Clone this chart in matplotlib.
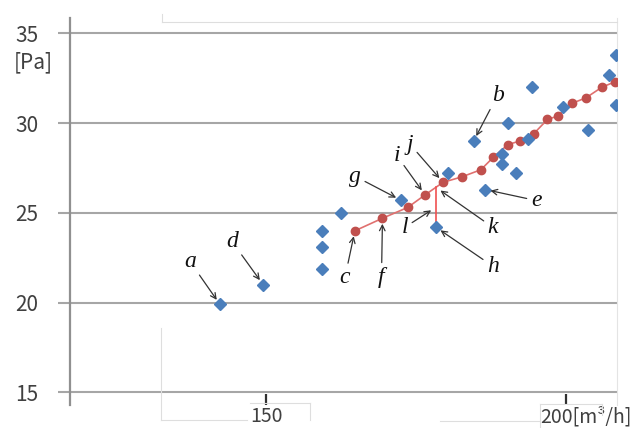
import numpy as np
import matplotlib
matplotlib.use("Agg")
import matplotlib.pyplot as plt
from matplotlib.lines import Line2D

# measured points (blue diamonds)
meas_x = [142.3, 149.5, 159.3, 159.3, 159.3, 162.5, 172.5, 178.3, 180.4, 184.6, 186.5,
          189.4, 189.4, 190.4, 191.6, 193.7, 194.4, 199.5, 203.6, 207.2, 208.3, 208.3]
meas_y = [19.9, 21.0, 24.0, 23.1, 21.9, 25.0, 25.7, 24.2, 27.2, 29.0, 26.3,
          28.3, 27.7, 30.0, 27.2, 29.1, 32.0, 30.9, 29.6, 32.7, 31.0, 33.8]

# fitted curve (red circles)
fit_x = [164.8, 169.4, 173.6, 176.5, 179.5, 182.6, 185.8, 187.9, 190.3, 192.3, 194.6,
         196.9, 198.7, 201.0, 203.3, 206.0, 208.2]
fit_y = [24.0, 24.7, 25.3, 26.0, 26.7, 27.0, 27.4, 28.1, 28.8, 29.0, 29.4,
         30.2, 30.4, 31.1, 31.4, 32.0, 32.3]

y_ticks = [15, 20, 25, 30, 35]
x_ticks = [150, 200]

GRID = '#a6a6a6'
TXT = '#404040'
BLUE = '#4a7ebb'
RED = '#c0504d'

fig = plt.figure(figsize=(6.44, 4.28), dpi=100)
ax = fig.add_axes([70 / 644, 23 / 428, 547 / 644, 387 / 428])
ax.set_xlim(117.3, 208.5)
ax.set_ylim(14.3, 35.85)

for s in ['top', 'bottom']:
    ax.spines[s].set_visible(False)
ax.spines['right'].set_color('#e4e4e4')
ax.spines['right'].set_linewidth(0.8)
ax.spines['left'].set_color('#909090')
ax.spines['left'].set_linewidth(1.6)

ax.set_yticks(y_ticks)
ax.set_yticklabels([str(v) for v in y_ticks])
ax.tick_params(axis='y', direction='out', length=8.6, width=1.5, color=GRID,
               pad=14, labelsize=15, labelcolor=TXT)
for v in y_ticks:
    ax.axhline(v, color=GRID, lw=1.5, zorder=1)

ax.set_xticks(x_ticks)
ax.set_xticklabels(['150', ''])
ax.tick_params(axis='x', direction='in', length=8, width=1.6, color='#303030',
               pad=1, labelsize=14, labelcolor=TXT)
for lbl in ax.get_xticklabels():
    lbl.set_family('Noto Sans CJK JP')
for lbl in ax.get_yticklabels():
    lbl.set_family('Noto Sans CJK JP')

ax.annotate('200[m³/h]', xy=(200, 14.3), xytext=(-26, -1), textcoords='offset pixels',
            ha='left', va='top', fontsize=14, color=TXT, family='Noto Sans CJK JP',
            annotation_clip=False)
fig.text(14 / 644, 1 - 62 / 428, '[Pa]', fontsize=15, color=TXT, va='center',
         ha='left', family='Noto Sans CJK JP')

# fitted line and residual for point h
ax.plot(fit_x, fit_y, color='#e0706f', lw=1.2, zorder=3)
ax.plot(fit_x, fit_y, 'o', color=RED, ms=6, zorder=4)
hx, hy = meas_x[7], meas_y[7]
hfit = np.interp(hx, fit_x, fit_y)
ax.plot([hx, hx], [hy, hfit], color='#f05050', lw=1.2, zorder=3)

ax.plot(meas_x, meas_y, 'D', color=BLUE, ms=6.2, zorder=5)

# letter annotations: (label, target, text offset in pixels)
notes = [
    ('a', (meas_x[0], meas_y[0]), (-30, 43)),
    ('d', (meas_x[1], meas_y[1]), (-31, 43)),
    ('b', (meas_x[9], meas_y[9]), (24, 46)),
    ('g', (meas_x[6], meas_y[6]), (-46, 24)),
    ('e', (meas_x[10], meas_y[10]), (51, -11)),
    ('h', (hx, hy), (57, -39)),
    ('c', (fit_x[0], fit_y[0]), (-10, -47)),
    ('f', (fit_x[1], fit_y[1]), (-1, -59)),
    ('i', (fit_x[3], fit_y[3]), (-28, 39)),
    ('j', (fit_x[4], fit_y[4]), (-33, 38)),
    ('k', (hx, hfit), (57, -40)),
    ('l', (hx, (hy + hfit) / 2), (-31, -20)),
]
for lab, xy, off in notes:
    ax.annotate(lab, xy=xy, xytext=off, textcoords='offset pixels',
                ha='center', va='center', fontsize=17, style='italic',
                family='Liberation Serif', color='#111111', zorder=6,
                arrowprops=dict(arrowstyle='->', color='#333333', lw=0.9,
                                shrinkA=1, shrinkB=4, mutation_scale=10))

# faint frame lines left over from the pasted figure
faint = '#dedede'
segs = [((162, 617), (21.5, 21.5)), ((162, 162), (14, 21.5)),
        ((161, 161), (328, 420)), ((161, 247), (420, 420)),
        ((250, 310), (403, 403)), ((310, 310), (403, 420)),
        ((440, 540), (421, 421)), ((540, 602), (404, 404)),
        ((540, 540), (404, 428)), ((602, 602), (404, 415))]
for xs, ys in segs:
    fig.add_artist(Line2D([x / 644 for x in xs], [1 - y / 428 for y in ys],
                          color=faint, lw=0.8))

fig.savefig('out.png', dpi=100)
